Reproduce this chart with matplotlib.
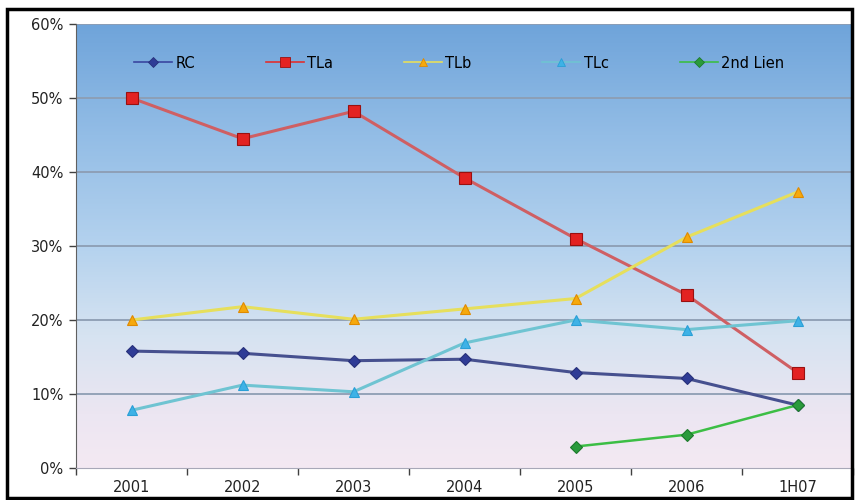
import matplotlib
matplotlib.use("Agg")
import matplotlib.pyplot as plt
import numpy as np
from matplotlib.colors import LinearSegmentedColormap
from matplotlib.patches import Rectangle
from matplotlib.lines import Line2D

categories = ["2001", "2002", "2003", "2004", "2005", "2006", "1H07"]
rc = [15.8, 15.5, 14.5, 14.7, 12.9, 12.1, 8.5]
tla = [50.0, 44.5, 48.2, 39.2, 31.0, 23.4, 12.9]
tlb = [20.0, 21.8, 20.1, 21.5, 22.9, 31.2, 37.3]
tlc = [7.8, 11.2, 10.3, 16.9, 20.0, 18.7, 19.9]
lien2 = [None, None, None, None, 2.9, 4.5, 8.5]
y_ticks = [0, 10, 20, 30, 40, 50, 60]

fig = plt.figure(figsize=(8.55, 5.0), dpi=100)
ax = fig.add_axes([76/855, 1-468/500, (853-76)/855, (468-24)/500])

x = np.arange(len(categories))
ax.set_xlim(-0.5, len(categories)-0.5)
ax.set_ylim(0, 60)

# gradient background
cmap = LinearSegmentedColormap.from_list("bg", [
    (0.0, "#f4e9f3"), (0.12, "#ece6f2"), (0.3, "#d6e3f1"),
    (0.5, "#b4d2ee"), (0.75, "#93bde6"), (1.0, "#6fa4da")])
grad = np.linspace(0, 1, 256).reshape(-1, 1)
ax.imshow(grad, aspect="auto", cmap=cmap, origin="lower",
          extent=[-0.5, len(categories)-0.5, 0, 60], zorder=0)

for yv in y_ticks[1:]:
    ax.axhline(yv, color="#8d9db3", lw=1.3, zorder=1)

styles = []

def plot(vals, lc, mc, mec, marker, ms, label, lw=2.2):
    xs = [xi for xi, v in zip(x, vals) if v is not None]
    ys = [v for v in vals if v is not None]
    ax.plot(xs, ys, color=lc, lw=lw, marker=marker, ms=ms, mfc=mc, mec=mec,
            mew=0.8, zorder=3)
    styles.append(Line2D([], [], color=lc, lw=1.2, marker=marker, ms=ms*0.85,
                         mfc=mc, mec=mec, mew=0.6, label=label))

plot(rc, "#46508f", "#2f3c96", "#27307a", "D", 6.5, "RC")
plot(tla, "#cf5f63", "#e32222", "#9a1010", "s", 8.5, "TLa")
plot(tlb, "#e6df5c", "#f6a90d", "#e08a00", "^", 7.5, "TLb")
plot(tlc, "#6fc4d2", "#3eb2e6", "#2a9fd6", "^", 7.5, "TLc")
plot(lien2, "#3cbe45", "#2a9a3c", "#1d7a2c", "D", 6.5, "2nd Lien", lw=1.8)
styles[1].set_color("#e03030")
styles[1].set_markerfacecolor("#e32222")
styles[0].set_color("#3a47a0")

ax.legend(handles=styles, loc="center", bbox_to_anchor=(0.493, 0.912), ncol=5,
          frameon=False, fontsize=10.5, columnspacing=4.85, handlelength=2.6,
          handletextpad=0.25)

ax.set_yticks(y_ticks)
ax.set_yticklabels([f"{v}%" for v in y_ticks], fontsize=10.5, color="#222222")
ax.set_xticks(x)
ax.set_xticklabels(categories, fontsize=10.5, color="#222222")
ax.tick_params(axis="x", length=0, pad=9)
ax.set_xticks(np.arange(-0.5, len(categories)), minor=True)
ax.tick_params(axis="x", which="minor", length=5, color="#404040", width=1)
ax.tick_params(axis="y", length=5, color="#404040", width=1, pad=4)
for s in ["top", "right"]:
    ax.spines[s].set_visible(False)
ax.spines["left"].set_color("#606060")
ax.spines["bottom"].set_color("#a8a8b8")

fig.patches.append(Rectangle((7/855, 2/500), 845/855, 489/500, transform=fig.transFigure,
                             fill=False, edgecolor="black", lw=2.5, zorder=10))

fig.savefig("out.png", dpi=100)
